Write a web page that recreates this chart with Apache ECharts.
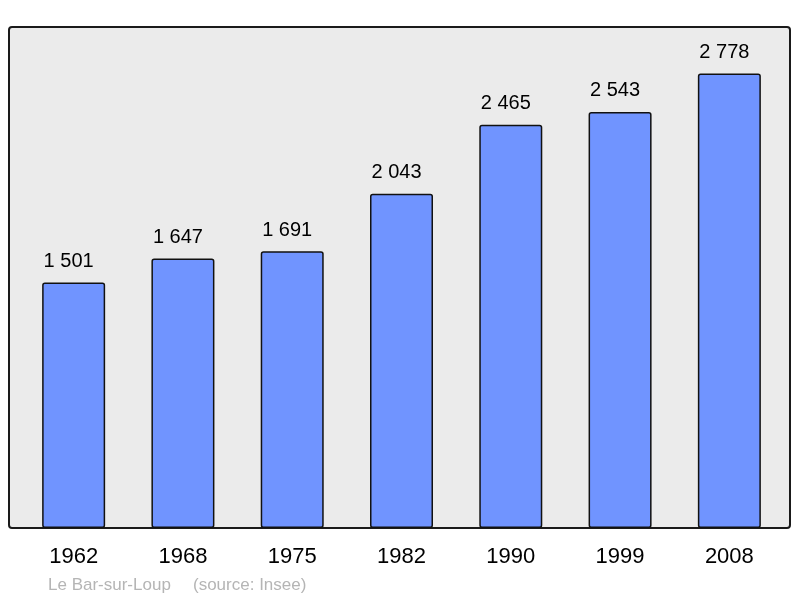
<!DOCTYPE html>
<html><head><meta charset="utf-8">
<script src="https://cdn.jsdelivr.net/npm/echarts@6/dist/echarts.min.js"></script>
<style>html,body{margin:0;padding:0;background:#fff}#c{width:800px;height:598px}</style>
</head><body><div id="c"></div>
<script>
const years = ['1962','1968','1975','1982','1990','1999','2008'];
const population = [1501, 1647, 1691, 2043, 2465, 2543, 2778];
const footerName = 'Le Bar-sur-Loup';
const footerSource = '(source: Insee)';

function fmt(v){ return String(v).replace(/\B(?=(\d{3})+(?!\d))/g, ' '); }
const FF = 'Liberation Sans, Arial, sans-serif';

const chart = echarts.init(document.getElementById('c'), null, {renderer:'canvas'});
chart.setOption({
  animation: false,
  backgroundColor: '#fff',
  textStyle: {fontFamily: FF},
  graphic: [
    {type:'rect', z:-10, shape:{x:9, y:27, width:781, height:501, r:3},
     style:{fill:'#ebebeb', stroke:'#1a1a1a', lineWidth:2}},
    {type:'text', left:48, top:577,
     style:{text: footerName, fill:'#b5b5b5', fontSize:17, fontFamily:FF}},
    {type:'text', left:193, top:577,
     style:{text: footerSource, fill:'#b5b5b5', fontSize:17, fontFamily:FF}}
  ],
  grid: {left:19, right:16, top:28, bottom:70, containLabel:false},
  xAxis: {
    type:'category', data: years,
    axisLine:{show:false}, axisTick:{show:false},
    axisLabel:{color:'#000', fontSize:22, margin:18, fontFamily:FF}
  },
  yAxis: {type:'value', min:0, max:3056, show:false, splitLine:{show:false}},
  series: [{
    type:'bar', data: population, barWidth:63,
    itemStyle:{color:'#7094ff', borderColor:'#111', borderWidth:1.5, borderRadius:2},
    label:{show:true, position:'top', distance:11, offset:[-5,0], color:'#000', fontSize:20,
      fontFamily:FF, formatter: p => fmt(p.value)}
  }]
});
</script></body></html>
